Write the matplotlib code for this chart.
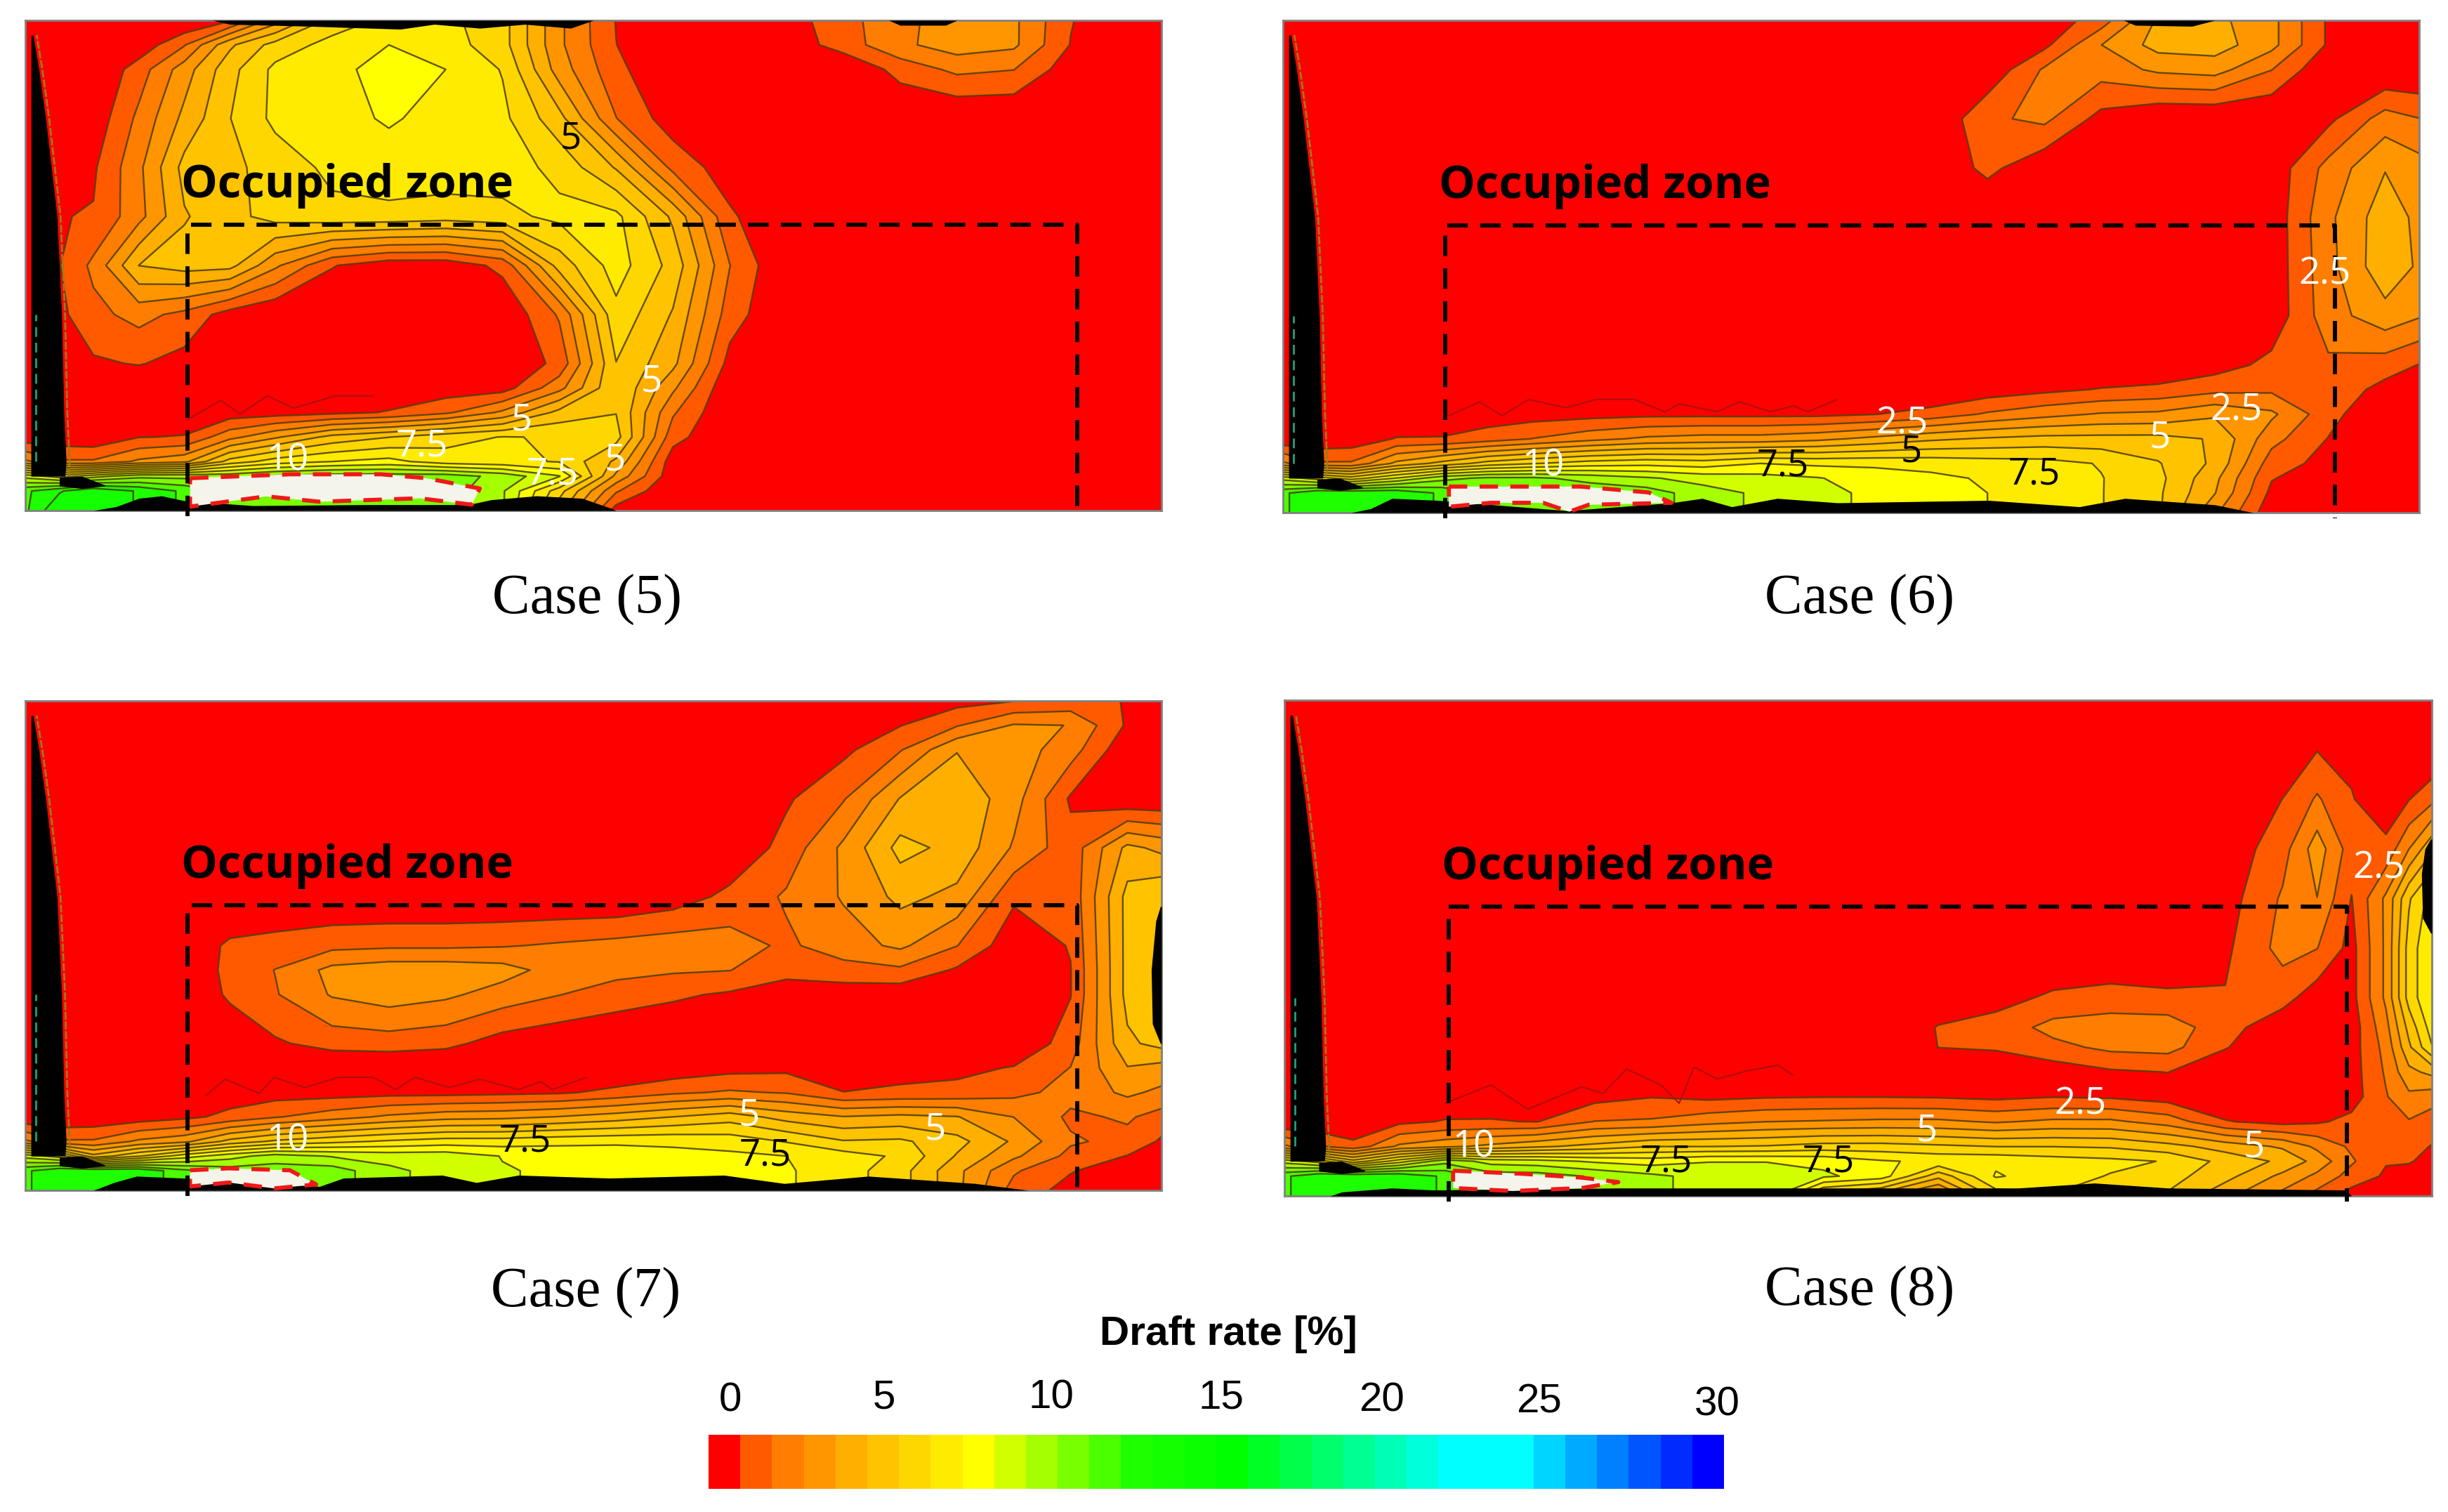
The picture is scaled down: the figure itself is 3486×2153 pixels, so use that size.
import numpy as np
import matplotlib
matplotlib.use('Agg')
import matplotlib.pyplot as plt
from matplotlib.colors import BoundaryNorm, ListedColormap

W, H = 3486, 2153

# Grid of the contour fields (x along the room, y up from the floor)
grid_x = [0, .03, .06, .1, .14, .18, .22, .27, .32, .37, .42, .47, .52, .57, .62, .67, .72, .77, .82, .87, .92, .97, 1]
grid_y = [1, .95, .9, .8, .7, .6, .5, .4, .3, .25, .2, .15, .1, .07, .04, 0]

# Draft rate, rows from ceiling to floor
case5 = [
    [0, 0, 0, 0, 0, .8, 3.3, 6, 6.8, 6.8, 6, 3, .9, 0, 0, .5, 1.5, 2.6, 3.2, 3, 1, 0, 0],
    [0, 0, 0, .3, 1.8, 4.5, 6, 6.9, 7.5, 7, 6, 3, .95, 0, 0, .3, 1.4, 2.6, 3.3, 3, .9, 0, 0],
    [0, 0, 0, 1.4, 3.3, 5.3, 6.8, 7.2, 7.9, 7.5, 6.5, 3.3, 1.2, 0, 0, 0, 0, 1.3, 2.1, 1.9, .4, 0, 0],
    [0, 0, .3, 2.1, 4, 5.6, 6.8, 7.2, 7.6, 7.2, 6.8, 5, 1.9, .4, 0, 0, 0, 0, 0, 0, 0, 0, 0],
    [0, .4, .8, 2.6, 5, 5.4, 6, 6.8, 7.1, 7.1, 7, 6.3, 4.6, 1.6, .4, 0, 0, 0, 0, 0, 0, 0, 0],
    [.5, .9, 1, 2.5, 4.6, 5.3, 6, 6.3, 6.3, 6.1, 6.3, 6.8, 6.8, 4.5, 1.1, 0, 0, 0, 0, 0, 0, 0, 0],
    [.5, .9, 2.1, 4.7, 5.1, 5, 3, 1, .3, .3, 1.2, 5.1, 7, 5.3, 1.9, 0, 0, 0, 0, 0, 0, 0, 0],
    [.5, .7, 1.6, 2.2, 1.6, .5, 0, 0, 0, 0, .1, 2, 6.3, 4.6, 1.4, 0, 0, 0, 0, 0, 0, 0, 0],
    [.5, .5, .8, 1, .6, .2, 0, 0, 0, 0, .1, 1.2, 5.6, 4, .6, 0, 0, 0, 0, 0, 0, 0, 0],
    [.3, .3, .2, .1, .1, .2, .2, .3, .3, .4, .5, 2.5, 5.6, 3, .1, 0, 0, 0, 0, 0, 0, 0, 0],
    [.2, .1, .1, .1, .2, .4, .5, .7, 1, 1.7, 3, 5, 5.6, 2, 0, 0, 0, 0, 0, 0, 0, 0, 0],
    [.3, .3, .2, .9, 1, 2.5, 3.6, 5, 5.6, 6.2, 6.6, 6.5, 6, 1.3, 0, 0, 0, 0, 0, 0, 0, 0, 0],
    [3, 2, 2, 3, 3.5, 6, 7, 7.5, 7.8, 7, 6.8, 6.5, 4.5, .4, 0, 0, 0, 0, 0, 0, 0, 0, 0],
    [9, 8, 9, 10, 10, 10, 10.5, 10.8, 10.8, 10.8, 10, 8.5, 3.5, .3, 0, 0, 0, 0, 0, 0, 0, 0, 0],
    [12, 13, 14, 13, 12, 11, 11, 11, 11, 10.8, 9.5, 6, 2, 0, 0, 0, 0, 0, 0, 0, 0, 0, 0],
    [12, 14, 14, 13, 12, 11, 11, 11, 11, 10.8, 9.5, 5, .5, 0, 0, 0, 0, 0, 0, 0, 0, 0, 0],
]
case6 = [
    [0, 0, 0, 0, 0, 0, 0, 0, 0, 0, 0, 0, 0, 0, 0, .3, 1.4, 3.9, 4, 3.1, .8, 0, 0],
    [0, 0, 0, 0, 0, 0, 0, 0, 0, 0, 0, 0, 0, 0, 0, .7, 2.8, 4.1, 4.2, 3.1, .8, 0, 0],
    [0, 0, 0, 0, 0, 0, 0, 0, 0, 0, 0, 0, 0, 0, .2, 2, 2.3, 3, 3.2, 1.9, .1, 0, 0],
    [0, 0, 0, 0, 0, 0, 0, 0, 0, 0, 0, 0, 0, 0, 1.7, 2.1, .6, 0, 0, 0, .7, 2.3, 1.9],
    [0, 0, 0, 0, 0, 0, 0, 0, 0, 0, 0, 0, 0, .1, 1.2, .2, 0, 0, 0, .3, 2.2, 3.7, 3.2],
    [0, 0, 0, 0, 0, 0, 0, 0, 0, 0, 0, 0, 0, 0, 0, 0, 0, 0, 0, .3, 2.6, 4.3, 3.5],
    [0, 0, 0, 0, 0, 0, 0, 0, 0, 0, 0, 0, 0, 0, 0, 0, 0, 0, 0, .3, 2.5, 4.4, 3.6],
    [0, 0, 0, 0, 0, 0, 0, 0, 0, 0, 0, 0, 0, 0, 0, 0, 0, 0, 0, .3, 2.4, 3.4, 2.9],
    [0, 0, 0, 0, 0, 0, 0, 0, 0, 0, 0, 0, 0, 0, 0, 0, 0, 0, .5, 1.2, 1.7, 1.4, .9],
    [0, 0, 0, 0, 0, 0, 0, 0, 0, 0, 0, 0, 0, 0, .4, .7, 1, 1.2, 1.6, 1.7, 1.6, .6, .3],
    [0, 0, 0, 0, .3, .4, .5, .6, .7, .7, .7, .7, .9, 1.3, 2, 2.5, 2.9, 3, 3.6, 3, 1.3, 0, 0],
    [.2, .2, .3, 1, 1, 1.4, 1.9, 2.5, 3, 3.2, 3.2, 3.5, 4, 4.5, 4.8, 5, 5, 5, 4.6, 2.2, .9, 0, 0],
    [3, 2, 2, 4, 5, 6, 6.5, 7, 7.2, 7, 7.5, 7.3, 7.3, 7.2, 7, 6.9, 6.5, 5.7, 4.5, 1.4, .6, 0, 0],
    [9, 8, 7, 8.5, 10, 10.5, 10.5, 10, 9.5, 9, 8.8, 8.5, 8, 7.7, 7.4, 7, 6.6, 5.9, 4, 1, .3, 0, 0],
    [12, 13, 13, 13, 12, 11, 11, 11, 10.8, 9.8, 9.2, 8.8, 8.2, 7.9, 7.5, 7, 6.6, 5.8, 3.8, .7, 0, 0, 0],
    [12, 13, 13, 13, 12, 11, 11, 11, 10.8, 9.8, 9.2, 8.8, 8.2, 7.9, 7.5, 7, 6.6, 5.8, 3, .3, 0, 0, 0],
]

# Case 7 needs one more row through the long blob
grid7_y = [1, .95, .9, .8, .7, .6, .5, .45, .4, .3, .25, .2, .15, .1, .07, .04, 0]
case7 = [
    [0, 0, 0, 0, 0, 0, 0, 0, 0, 0, 0, 0, 0, 0, 0, 0, 0, .2, .6, .9, 1.2, .9, 0],
    [0, 0, 0, 0, 0, 0, 0, 0, 0, 0, 0, 0, 0, 0, 0, 0, 0, .9, 1.8, 2.9, 2.8, .8, 0],
    [0, 0, 0, 0, 0, 0, 0, 0, 0, 0, 0, 0, 0, 0, 0, 0, .7, 1.8, 3.7, 3.3, 2.3, .2, 0],
    [0, 0, 0, 0, 0, 0, 0, 0, 0, 0, 0, 0, 0, 0, 0, .8, 1.8, 3.8, 4.5, 3.2, .8, .1, .1],
    [0, 0, 0, 0, 0, 0, 0, 0, 0, 0, 0, 0, 0, 0, .1, 1.3, 3, 5, 4.4, 2.7, 1.3, 4, 3.5],
    [0, 0, 0, 0, 0, 0, 0, 0, 0, 0, 0, 0, 0, .4, 1.2, 2, 2.9, 4, 3.5, 1.1, 1.2, 5, 5.5],
    [0, 0, 0, 0, .3, 1.1, 1.3, 1.6, 1.7, 1.7, 1.8, 2, 2.2, 2.4, 2.3, 1.7, 2.4, 3, 1.9, .3, 1, 5, 5.7],
    [0, 0, 0, 0, .2, 1.2, 1.9, 3.1, 3.4, 3.4, 3.2, 2.4, 2.2, 2, 1.9, 1.2, 1.5, 1.7, .8, 0, .9, 5, 5.8],
    [0, 0, 0, 0, .1, 1.1, 1.8, 2.9, 3.3, 3, 2.4, 1.9, 1.4, 1.1, .8, .5, .4, .3, .1, 0, .9, 5, 5.8],
    [0, 0, 0, 0, 0, .2, .8, 1.3, 1.4, 1.2, .5, .2, .1, 0, 0, 0, 0, 0, 0, .1, 1.4, 4.5, 5],
    [0, 0, 0, 0, 0, 0, 0, 0, 0, 0, 0, 0, 0, .3, .6, .7, .5, .6, .7, 1, 1.9, 3.7, 3.4],
    [0, 0, 0, 0, .3, .4, .5, .5, .6, .6, .7, .8, 1.2, 1.7, 2, 1.8, .95, 1.1, 1.2, 1.6, 2.2, 3, 2.6],
    [.1, .1, .2, .4, .7, 1.2, 1.8, 2.4, 3, 3.4, 3.5, 3.8, 4.2, 4.7, 5.2, 4.3, 3.8, 4, 3.8, 2.8, 1.7, 2, 1.5],
    [3, 2, 2, 3, 3.5, 5, 5.8, 6.3, 6.7, 7, 7, 7.2, 7.3, 7.3, 7.1, 6.5, 5.7, 5.8, 5, 3.6, 2, 1.6, .8],
    [9, 8, 5, 6.5, 8, 9, 9.8, 9.3, 9, 9, 8.4, 8.2, 8.1, 7.8, 7.7, 7.5, 7, 6.4, 4.6, 3, 1.6, .9, .1],
    [12, 13, 13, 13, 11.5, 10.8, 10.8, 10.8, 9.6, 9, 8.5, 8.3, 8.1, 7.9, 7.8, 7.6, 7, 6, 4, 2, 1, .4, 0],
    [12, 13, 13, 13, 11.5, 10.8, 10.8, 10.8, 9.6, 9, 8.5, 8.3, 8.1, 7.9, 7.8, 7.6, 7, 6, 4, 1.5, .6, .1, 0],
]

# Case 8 has a narrow double plume on the right and needs its own grid
grid8_x = [0, .03, .06, .1, .14, .18, .22, .27, .32, .37, .42, .47, .52, .57, .62, .67, .72, .77, .82, .87, .9, .93, .96, .98, 1]
grid8_y = [1, .95, .9, .8, .7, .6, .5, .4, .34, .3, .25, .2, .15, .1, .07, .04, 0]
case8 = [
    [0, 0, 0, 0, 0, 0, 0, 0, 0, 0, 0, 0, 0, 0, 0, 0, 0, 0, 0, 0, 0, 0, 0, 0, 0],
    [0, 0, 0, 0, 0, 0, 0, 0, 0, 0, 0, 0, 0, 0, 0, 0, 0, 0, 0, 0, 0, 0, 0, 0, 0],
    [0, 0, 0, 0, 0, 0, 0, 0, 0, 0, 0, 0, 0, 0, 0, 0, 0, 0, 0, .3, .9, .7, 0, 0, 0],
    [0, 0, 0, 0, 0, 0, 0, 0, 0, 0, 0, 0, 0, 0, 0, 0, 0, 0, 0, .95, 2, 1, .3, .9, 1.6],
    [0, 0, 0, 0, 0, 0, 0, 0, 0, 0, 0, 0, 0, 0, 0, 0, 0, 0, .3, 1.5, 3.3, 1.4, 1.2, 2.8, 4.5],
    [0, 0, 0, 0, 0, 0, 0, 0, 0, 0, 0, 0, 0, 0, 0, 0, 0, 0, .5, 2, 2.8, .9, 3, 5.5, 7],
    [0, 0, 0, 0, 0, 0, 0, 0, 0, 0, 0, 0, 0, 0, 0, 0, 0, 0, .75, 2.2, 1.9, .6, 3, 6, 7.5],
    [0, 0, 0, 0, 0, 0, 0, 0, 0, 0, 0, 0, 0, .2, .6, 1.1, 1.3, 1.15, 1, 1.3, .4, .6, 3, 6, 7.5],
    [0, 0, 0, 0, 0, 0, 0, 0, 0, 0, 0, 0, 0, 1, 1.3, 2.2, 2.4, 2.4, 1.3, .3, 0, .4, 2.5, 5, 7],
    [0, 0, 0, 0, 0, 0, 0, 0, 0, 0, 0, 0, 0, .95, 1.05, 1.6, 2.1, 2.2, 1, .1, 0, .5, 2.2, 4.5, 6.5],
    [0, 0, 0, 0, 0, 0, 0, 0, 0, 0, 0, 0, 0, .1, .2, .4, .8, .95, .2, 0, 0, .5, 2, 3.5, 4],
    [0, 0, 0, .1, .3, .4, .5, .6, .9, .7, .85, .9, .9, .85, .7, .9, .8, .5, .1, 0, 0, .5, 1.8, 2.6, 2.3],
    [0, .1, .2, .7, 1, 1, .9, 1.9, 2, 2.5, 2.8, 2.9, 3, 3, 2.7, 3, 3, 2.4, 1, .6, .8, 1.2, 1.8, 1.8, 1.4],
    [3, 2, 1.2, 3, 3.5, 4, 4.5, 5, 5.6, 5.6, 5.7, 6, 6, 5.8, 5.6, 5.6, 5.5, 5, 4.3, 3.6, 2.6, 1.7, 1.2, 1.2, .9],
    [9, 8, 6, 8, 10, 9, 8.8, 8.3, 8, 8.4, 8.4, 8.2, 7.6, 7.3, 7.3, 7, 6.8, 6.5, 5.3, 4.5, 3.4, 2, 1, 1, .7],
    [12, 13, 13, 13, 12, 10.8, 10.8, 10.2, 9.6, 9, 9, 8.6, 8, 5, 7.6, 7, 6.5, 6, 5, 3.5, 2.6, 1.5, .8, .6, .4],
    [12, 13, 13, 13, 12, 10.8, 10.8, 10.2, 9.6, 9, 9, 5, 4, 2, 6, 6.5, 6, 5.5, 4, 2.5, 1.5, .5, .2, .2, 0],
]

# Black floor and wall, where the contour lines of the CFD plot run together
floor5_x = [.06, .08, .1, .12, .14, .2, .3, .39, .41, .45, .49, .515, .52]
floor5_h = [0, .008, .025, .03, .02, .01, .012, .012, .022, .03, .025, .005, 0]
floor6_x = [.06, .077, .096, .136, .25, .342, .369, .395, .435, .488, .621, .701, .741, .82, .854]
floor6_h = [0, .008, .029, .025, .004, .02, .029, .012, .029, .02, .025, .012, .029, .016, 0]
floor7_x = [.06, .078, .098, .139, .259, .28, .367, .397, .434, .514, .615, .668, .742, .836, .883]
floor7_h = [0, .016, .029, .025, .008, .025, .031, .016, .031, .025, .031, .014, .029, .014, 0]
floor8_x = [.04, .05, .094, .13, .29, .377, .64, .706, .77, .925, .93]
floor8_h = [0, .008, .016, .012, .016, .016, .016, .026, .016, .012, 0]
wall_y = [.07, .1, .2, .4, .6, .8, .9, .97]
wall_w = [.035, .036, .034, .032, .028, .018, .012, .007]
ceiling5_x = [.165, .18, .25, .33, .36, .4, .44, .48, .5, .76, .77, .81, .82]
ceiling5_h = [0, .008, .012, .018, .008, .016, .008, .016, 0, 0, .01, .01, 0]
ceiling6_x = [.74, .75, .8, .82]
ceiling6_h = [0, .01, .012, 0]
right7_y = [.3, .34, .45, .55, .58]
right7_w = [.001, .008, .009, .005, .001]
right8_y = [.53, .56, .65, .7, .72]
right8_w = [.001, .008, .009, .006, .001]

# Regions above the limit, white with the red dashed outline
hot5_x = [.145, .233, .313, .353, .4, .393, .347, .259, .212, .145]
hot5_y = [.066, .074, .074, .066, .045, .012, .025, .018, .029, .008]
hot6_x = [.146, .216, .262, .322, .342, .269, .252, .229, .183, .146]
hot6_y = [.053, .053, .053, .041, .02, .016, .002, .02, .02, .012]
hot7_x = [.145, .179, .233, .256, .219, .179, .145]
hot7_y = [.041, .045, .041, .012, .004, .016, .008]
hot8_x = [.147, .206, .259, .291, .259, .199, .147]
hot8_y = [.051, .045, .037, .028, .016, .01, .016]

# Stray zigzag contour above the floor
trace5_x = [.142, .172, .189, .213, .236, .273, .306]
trace5_y = [.184, .225, .197, .234, .209, .234, .234]
trace6_x = [.146, .173, .193, .216, .249, .276, .309, .336, .349, .382, .402, .429, .449, .462, .488]
trace6_y = [.197, .225, .197, .23, .213, .23, .23, .205, .221, .205, .225, .205, .217, .205, .23]
trace7_x = [.159, .176, .206, .219, .246, .276, .306, .326, .343, .373, .4, .434, .454, .464, .494]
trace7_y = [.194, .227, .198, .231, .21, .231, .231, .206, .231, .21, .227, .206, .222, .206, .231]
trace8_x = [.14, .18, .212, .259, .278, .298, .328, .344, .357, .377, .403, .43, .443]
trace8_y = [.187, .224, .175, .22, .207, .256, .224, .187, .26, .236, .252, .264, .244]

# Contour labels: text, x, y, colour
labels5 = [('5', .48, .758, 'k'), ('5', .551, .262, 'w'), ('5', .437, .184, 'w'), ('7.5', .349, .131, 'w'),
           ('10', .231, .102, 'w'), ('7.5', .464, .074, 'w'), ('5', .519, .102, 'w')]
labels6 = [('2.5', .917, .484, 'w'), ('2.5', .545, .18, 'w'), ('5', .553, .123, 'k'), ('5', .772, .152, 'w'),
           ('2.5', .839, .207, 'w'), ('7.5', .44, .094, 'k'), ('7.5', .661, .078, 'k'), ('10', .229, .094, 'w')]
labels7 = [('10', .231, .101, 'w'), ('7.5', .44, .099, 'k'), ('5', .637, .153, 'w'), ('7.5', .651, .07, 'k'),
           ('5', .801, .124, 'w')]
labels8 = [('10', .165, .098, 'w'), ('7.5', .333, .069, 'k'), ('7.5', .474, .069, 'k'), ('5', .56, .13, 'w'),
           ('2.5', .694, .185, 'w'), ('5', .845, .098, 'w'), ('2.5', .954, .66, 'w')]

case_names = ['Case (5)', 'Case (6)', 'Case (7)', 'Case (8)']
bar_ticks = [0, 5, 10, 15, 20, 25, 30]

# Colour scale, 32 flat bands like the legend
levels = np.linspace(0, 30, 33)
anchor_i = [0, 1, 2, 4, 8, 13, 16, 23, 25, 31]
anchor_r = [255, 255, 255, 255, 255, 30, 0, 0, 0, 0]
anchor_g = [0, 90, 125, 175, 255, 255, 255, 255, 255, 0]
anchor_b = [0, 0, 0, 0, 0, 0, 0, 255, 255, 255]
band = np.arange(32)
colors = np.column_stack([np.interp(band, anchor_i, c) for c in (anchor_r, anchor_g, anchor_b)]) / 255.
cmap = ListedColormap(colors)
norm = BoundaryNorm(levels, 32)


def add_axes_px(fig, x0, y0, x1, y1):
  return fig.add_axes([x0 / W, 1 - y1 / H, (x1 - x0) / W, (y1 - y0) / H])


def draw_case(fig, box, x, y, z, floor, hot, trace, labels, right=None, ceiling=None):
  ax = add_axes_px(fig, *box)
  z = np.array(z)
  ax.contourf(x, y, z, levels=levels, cmap=cmap, norm=norm, extend='both')
  ax.contour(x, y, z, levels=levels[1:], colors='#4a3a08', linewidths=1.7, alpha=.85)
  ax.plot(trace[0], trace[1], color='#a81010', lw=1.4)

  # floor and wall
  ax.fill_between(floor[0], 0, floor[1], color='k', lw=0, zorder=3)
  ax.fill_betweenx(wall_y, .005, wall_w, color='k', lw=0, zorder=3)
  ax.plot(np.array(wall_w) + .003, wall_y, color='#9a7a20', lw=2, ls=(0, (4, 1)), zorder=3)
  ax.plot(np.full(3, .009), wall_y[1:4], color='#20a080', lw=2, ls=(0, (5, 3)), zorder=3.5)
  ax.fill_between([.03, .05, .07], [.05, .045, .05], [.068, .07, .052], color='k', lw=0, zorder=3)
  if right is not None:
    ax.fill_betweenx(right[0], 1 - np.array(right[1]), 1, color='k', lw=0, zorder=3)
  if ceiling is not None:
    ax.fill_between(ceiling[0], 1 - np.array(ceiling[1]), 1, color='k', lw=0, zorder=3)

  # region above the limit
  ax.fill(hot[0], hot[1], color='#f4f4ea', lw=0, zorder=4)
  ax.plot(hot[0] + hot[0][:1], hot[1] + hot[1][:1], color='#f01818', lw=4.2, ls=(0, (4.5, 3)), zorder=5)

  # occupied zone
  ax.plot([.143, .143, .926, .926], [-.012, .583, .583, -.012], color='k', lw=4.2, ls=(0, (5, 3)),
          clip_on=False, zorder=6)
  ax.text(.137, .662, 'Occupied zone', fontsize=47, fontweight='bold', family='Open Sans', color='k',
          ha='left', va='center', zorder=7)

  for text, tx, ty, c in labels:
    ax.text(tx, ty, text, fontsize=38, family='Open Sans', color=c, ha='center', va='center', zorder=7)

  ax.set_xlim(0, 1)
  ax.set_ylim(0, 1)
  ax.set_xticks([])
  ax.set_yticks([])
  for s in ax.spines.values():
    s.set_color('#808080')
    s.set_linewidth(2)
  return ax


fig = plt.figure(figsize=(W / 100, H / 100), dpi=100, facecolor='white')

draw_case(fig, (36, 29, 1654, 727), grid_x, grid_y, case5, (floor5_x, floor5_h), (hot5_x, hot5_y),
          (trace5_x, trace5_y), labels5, ceiling=(ceiling5_x, ceiling5_h))
draw_case(fig, (1827, 29, 3445, 730), grid_x, grid_y, case6, (floor6_x, floor6_h), (hot6_x, hot6_y),
          (trace6_x, trace6_y), labels6, ceiling=(ceiling6_x, ceiling6_h))
draw_case(fig, (36, 998, 1654, 1695), grid_x, grid7_y, case7, (floor7_x, floor7_h), (hot7_x, hot7_y),
          (trace7_x, trace7_y), labels7, right=(right7_y, right7_w))
draw_case(fig, (1829, 997, 3463, 1703), grid8_x, grid8_y, case8, (floor8_x, floor8_h), (hot8_x, hot8_y),
          (trace8_x, trace8_y), labels8, right=(right8_y, right8_w))

# Case captions
for name, (px, py) in zip(case_names, [(836, 854), (2648, 854), (834, 1841), (2648, 1839)]):
  fig.text(px / W, 1 - py / H, name, fontsize=58, family='Liberation Serif', ha='center', va='center')

# Colour legend
cax = add_axes_px(fig, 1009, 2043, 2455, 2120)
cax.pcolormesh(levels, [0, 1], [levels[:-1] + .01], cmap=cmap, norm=norm)
cax.axis('off')
fig.text(1749 / W, 1 - 1900 / H, 'Draft rate [%]', fontsize=42, fontweight='bold', family='Liberation Sans',
         ha='center', va='center')
for v, px, py in zip(bar_ticks, [1040, 1259, 1497, 1739, 1968, 2192, 2445], [1995, 1990, 1990, 1990, 1995, 1997, 2000]):
  fig.text(px / W, 1 - py / H, str(v), fontsize=42, family='Liberation Sans', ha='center', va='center')

fig.savefig('out.png', dpi=100)
